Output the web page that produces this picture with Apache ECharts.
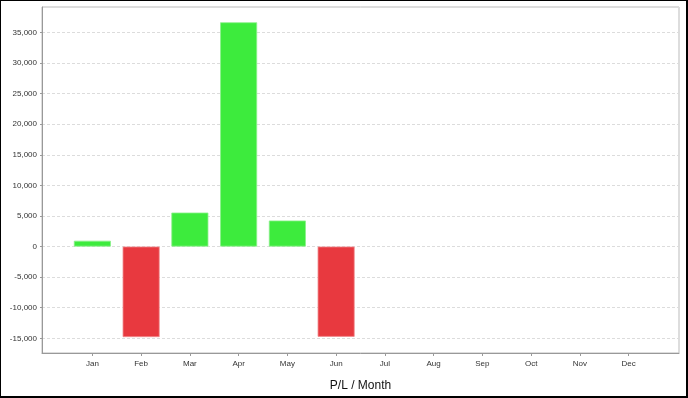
<!DOCTYPE html>
<html>
<head>
<meta charset="utf-8">
<script src="https://cdn.jsdelivr.net/npm/echarts@6/dist/echarts.min.js"></script>
<style>
html,body{margin:0;padding:0;background:#fff;}
#wrap{position:relative;width:688px;height:398px;}
#chart{position:absolute;left:0;top:0;width:688px;height:398px;}
#frame{position:absolute;left:0;top:0;width:688px;height:398px;box-sizing:border-box;border-left:1px solid #000;border-top:1px solid #000;border-right:2px solid #000;border-bottom:2px solid #000;pointer-events:none;}
</style>
</head>
<body>
<div id="wrap"><div id="chart"></div><div id="frame"></div></div>
<script>
var months = ['Jan','Feb','Mar','Apr','May','Jun','Jul','Aug','Sep','Oct','Nov','Dec'];
var profit = [950, -14800, 5550, 36650, 4250, -14750, null, null, null, null, null, null];
var yMin = -17400;
var yMax = 39150;
var axisTitle = 'P/L / Month';

var green = '#3deb3d', greenEdge = '#8af08a';
var red = '#e8393f', redEdge = '#f08a8d';
var font = '"Liberation Sans", Arial, sans-serif';

var chart = echarts.init(document.getElementById('chart'), null, {renderer: 'canvas'});
chart.setOption({
  animation: false,
  backgroundColor: '#fff',
  textStyle: {fontFamily: font},
  grid: [
    {left: 42, right: 9, top: 7, bottom: 45, show: true, borderColor: '#bbb', borderWidth: 1, backgroundColor: '#fff'},
    {left: 68, right: 35, top: 7, bottom: 45}
  ],
  xAxis: [
    {gridIndex: 0, type: 'value', min: 0, max: 1, position: 'bottom',
     axisLine: {show: true, onZero: false, lineStyle: {color: '#999', width: 1}},
     axisTick: {show: false}, axisLabel: {show: false}, splitLine: {show: false}},
    {gridIndex: 1, type: 'category', data: months, position: 'bottom',
     axisLine: {show: false, onZero: false},
     axisTick: {show: true, alignWithLabel: true, length: 3, lineStyle: {color: '#999'}},
     axisLabel: {fontSize: 8, color: '#333', margin: 7, fontFamily: font},
     name: axisTitle, nameLocation: 'middle', nameGap: 27,
     nameTextStyle: {fontSize: 12, color: '#111', fontFamily: font}}
  ],
  yAxis: [
    {gridIndex: 0, type: 'value', min: yMin, max: yMax, splitNumber: 11,
     axisLine: {show: true, onZero: false, lineStyle: {color: '#999', width: 1}},
     axisTick: {show: true, length: 2, lineStyle: {color: '#999'}},
     axisLabel: {fontSize: 8, color: '#333', margin: 5, showMinLabel: false, showMaxLabel: false, fontFamily: font,
       formatter: function (v) { return v.toLocaleString('en-US'); }},
     splitLine: {show: true, lineStyle: {color: '#dcdcdc', type: [3, 2], width: 1}}},
    {gridIndex: 1, type: 'value', min: yMin, max: yMax, show: false, splitLine: {show: false}}
  ],
  series: [{
    type: 'bar',
    xAxisIndex: 1, yAxisIndex: 1,
    barWidth: 37,
    data: profit.map(function (v) {
      if (v === null) return null;
      return {value: v, itemStyle: {color: v >= 0 ? green : red, borderColor: v >= 0 ? greenEdge : redEdge, borderWidth: 0.8}};
    })
  }]
});
</script>
</body>
</html>
